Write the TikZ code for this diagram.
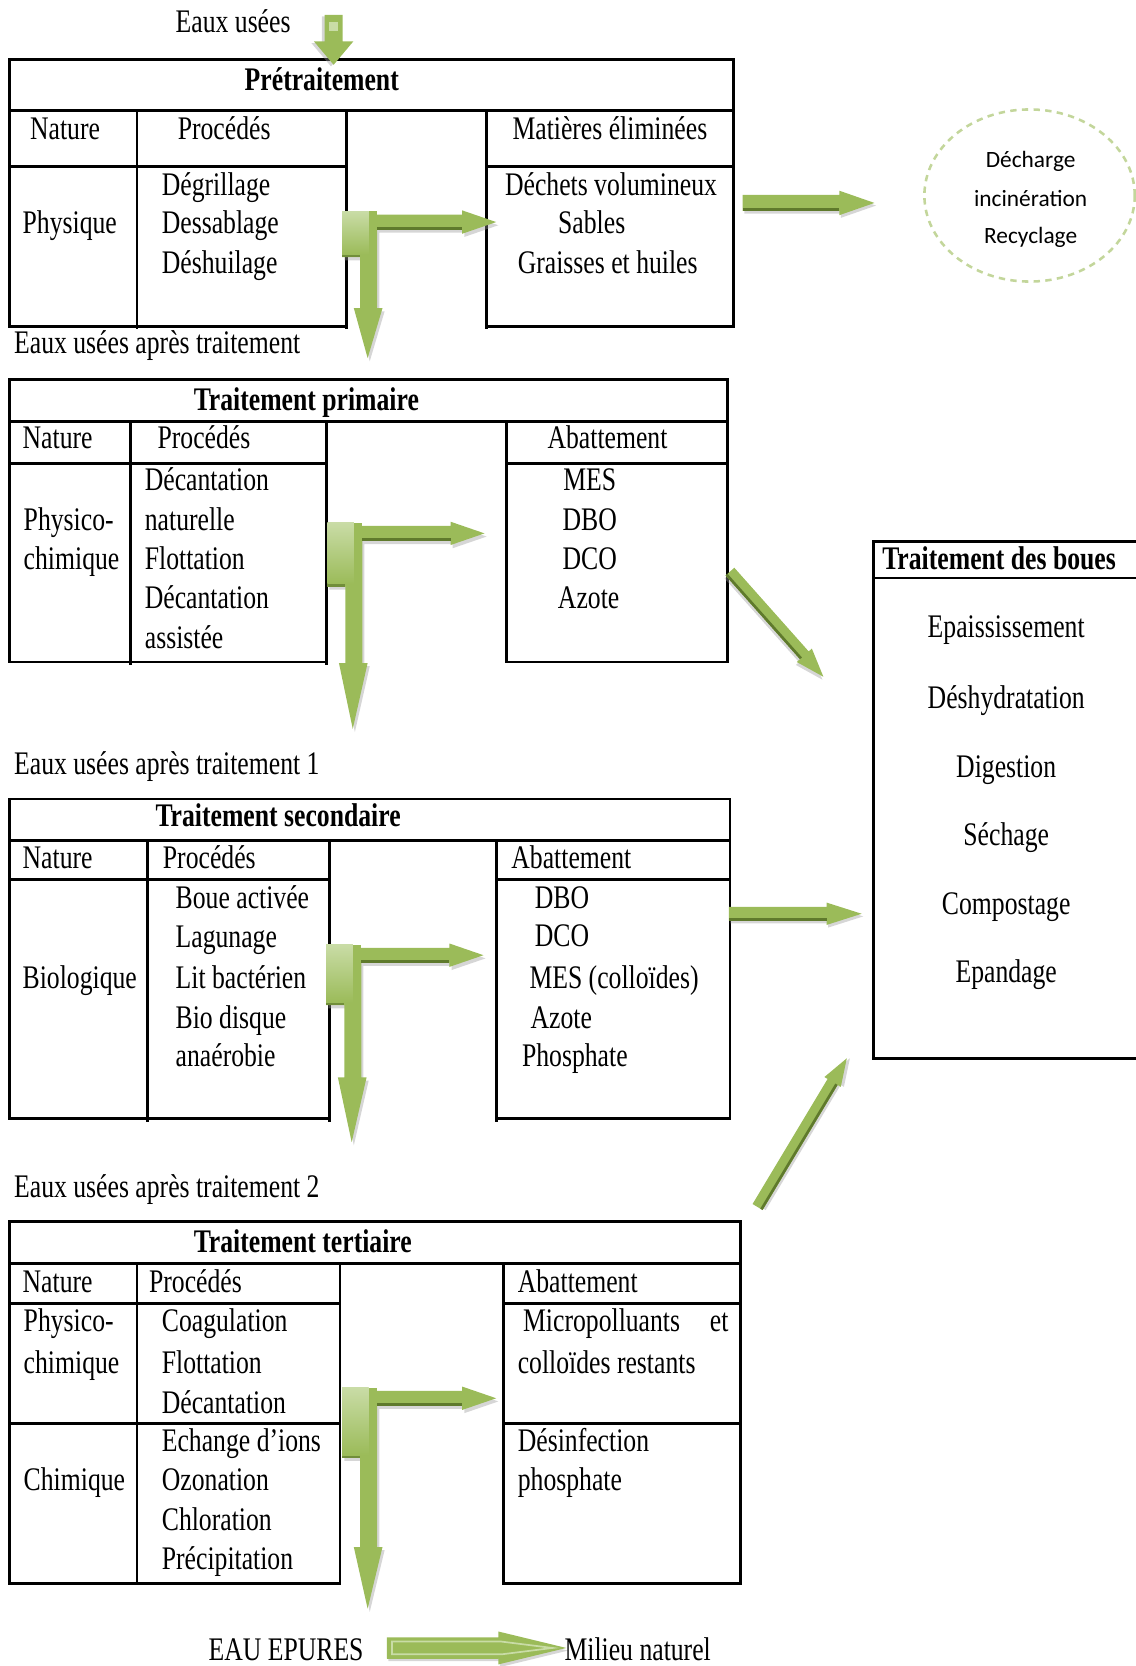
\documentclass[tikz,border=0pt]{standalone}
\usepackage{fontspec}
\setmainfont{Liberation Serif}[FakeStretch=0.78]
\newfontfamily\calib{Carlito}
\usetikzlibrary{calc}
\definecolor{agreen}{HTML}{9BBB59}
\definecolor{adark}{HTML}{5F7A2C}
\definecolor{alight}{HTML}{C9DCA6}
\definecolor{ring}{HTML}{C3D69B}

% straight block arrow outline, drawn in a rotated local frame
\def\garpath#1#2#3{(0,{-#1/2}) -- ({\garlen-#3},{-#1/2}) -- ({\garlen-#3},{-#2/2}) -- (\garlen,0) -- ({\garlen-#3},{#2/2}) -- ({\garlen-#3},{#1/2}) -- (0,{#1/2}) -- cycle}
% #1,#2 start  #3,#4 tip  #5 shaft width  #6 head width  #7 head length  #8 edge colour
\newcommand{\garrow}[8]{%
  \pgfmathsetmacro{\garang}{atan2(#2-#4,#3-#1)}%
  \pgfmathsetmacro{\garlen}{veclen(#3-#1,#4-#2)}%
  \begin{scope}[shift={(#1,#2)}, rotate=\garang]
    \fill[black!40, opacity=.4, shift={(1.5,2.5)}] \garpath{#5}{#6}{#7};
    \fill[agreen] \garpath{#5}{#6}{#7};
    \fill[#8] (0,{#5/2-2.5}) rectangle ({\garlen-#7},{#5/2});
  \end{scope}}

% corner arrow with one head to the right and one head downwards
% #1 = corner height, #2 = vertical shaft length, #3 = horizontal shaft length, #4 = lower head length
\def\Lpath#1#2#3#4{(0,0) -- (25,0) -- (25,3) -- ({25+#3},3) -- ({25+#3},-1) -- ({57+#3},10) -- ({25+#3},21) -- ({25+#3},17) -- (33,17) -- (33,{#1+#2}) -- (38,{#1+#2}) -- (24,{#1+#2+#4}) -- (11,{#1+#2}) -- (17,{#1+#2}) -- (17,#1) -- (0,#1) -- cycle}
\newcommand{\Larrow}[6]{%
  \begin{scope}[shift={(#1,#2)}]
    \fill[black!40, opacity=.4, shift={(2,3)}] \Lpath{#3}{#4}{#5}{#6};
    \fill[agreen] \Lpath{#3}{#4}{#5}{#6};
    \fill[adark] (25,14.5) rectangle ({25+#5},17);
    \fill[adark!70!agreen] (0,{#3-2.5}) rectangle (17,#3);
    \shade[top color=alight, bottom color=agreen] (0,0) rectangle (25,{#3-2.5});
    \fill[agreen] (25,0) rectangle (33,{#3});
  \end{scope}}

\begin{document}
\begin{tikzpicture}[x=0.5pt, y=-0.5pt, line width=1.35pt,
  tx/.style={inner sep=0pt, anchor=base west, font=\fontsize{15.5}{18}\selectfont},
  tc/.style={tx, anchor=base},
  tb/.style={tx, font=\fontsize{15.5}{18}\selectfont\bfseries},
  te/.style={tx, anchor=base east},
  ts/.style={inner sep=0pt, anchor=base, font=\calib\fontsize{11}{13}\selectfont}]
\useasboundingbox (0,0) rectangle (1069,1568);

% ---------- Prétraitement ----------
\draw (9,104) -- (9,56) -- (690,56) -- (690,104) -- cycle;
\draw (9,104) -- (9,307) -- (326,307);
\draw (326,104) -- (326,310);
\draw (129,104) -- (129,310);
\draw (9,157) -- (326,157);
\draw (458,104) -- (458,310);
\draw (458,307) -- (690,307) -- (690,104);
\draw (458,157) -- (690,157);

% ---------- Traitement primaire ----------
\draw (9,397) -- (9,357) -- (685,357) -- (685,397) -- cycle;
\draw (9,397) -- (9,623) -- (307,623);
\draw (307,397) -- (307,626);
\draw (123,397) -- (123,626);
\draw (9,436) -- (307,436);
\draw (477,397) -- (477,623) -- (685,623) -- (685,397);
\draw (477,436) -- (685,436);

% ---------- Traitement secondaire ----------
\draw (9,791) -- (9,752) -- (687,752) -- (687,791) -- cycle;
\draw (9,791) -- (9,1053) -- (310,1053);
\draw (310,791) -- (310,1056);
\draw (139,791) -- (139,1056);
\draw (9,828) -- (310,828);
\draw (467,791) -- (467,1056);
\draw (467,1053) -- (687,1053) -- (687,791);
\draw (467,828) -- (687,828);

% ---------- Traitement tertiaire ----------
\draw (9,1189) -- (9,1150) -- (697,1150) -- (697,1189) -- cycle;
\draw (9,1189) -- (9,1490) -- (320,1490) -- (320,1189);
\draw (129,1189) -- (129,1490);
\draw (9,1227) -- (320,1227);
\draw (9,1340) -- (320,1340);
\draw (474,1189) -- (474,1490) -- (697,1490) -- (697,1189);
\draw (474,1227) -- (697,1227);
\draw (474,1340) -- (697,1340);

% ---------- Traitement des boues ----------
\draw (1069,510) -- (822,510) -- (822,996) -- (1069,996);
\draw (822,544) -- (1069,544);

% ---------- arrows ----------
\garrow{314}{14}{314}{61}{17}{37}{22}{agreen}
\fill[alight] (310,21) rectangle (318,29);
\Larrow{322}{199}{43}{48}{88}{47}
\Larrow{308}{492}{60}{72}{91}{62}
\Larrow{307}{889}{57}{68}{91}{61}
\Larrow{322}{1306}{66}{84}{88}{58}
\garrow{699}{191}{823}{191}{15}{23}{33}{adark}
\garrow{686}{860}{811}{860}{13}{21}{33}{adark}
\garrow{687}{538}{775}{637}{11}{19}{27}{adark}
\garrow{713}{1136}{797}{996}{11}{18}{26}{adark}
\garrow{364}{1551}{533}{1551}{20}{31}{64}{agreen}
\draw[alight, line width=.8pt] (369,1545) -- (472,1545) -- (520,1551) -- (472,1557) -- (369,1557) -- cycle;

% ---------- disposal ring ----------
\draw[ring, line width=1.2pt, dash pattern=on 3pt off 2.5pt] (969,184) ellipse [x radius=49.5pt, y radius=40.5pt];
\node[ts] (dech) at (970,158) {Décharge};
\node[ts] (inci) at (970,194) {incinération};
\node[ts] (recy) at (970,229) {Recyclage};

% ---------- texts ----------
\node[tx] (in) at (164,31) {Eaux usées};

\node[tb] (t0) at (229,85) {Prétraitement};
\node[tx] (n0) at (27,131) {Nature};
\node[tx] (p0) at (166,131) {Procédés};
\node[tx] (m0) at (481,131) {Matières éliminées};
\node[tx] (k0) at (20,220) {Physique};
\node[tx] at (151,184) {Dégrillage};
\node[tx] at (151,220) {Dessablage};
\node[tx] at (151,257) {Déshuilage};
\node[tx] at (474,184) {Déchets volumineux};
\node[tx] at (524,220) {Sables};
\node[tx] at (486,257) {Graisses et huiles};
\node[tx] (o0) at (12,333) {Eaux usées après traitement};

\node[tb] (t1) at (181,386) {Traitement primaire};
\node[tx] at (20,422) {Nature};
\node[tx] at (147,422) {Procédés};
\node[tx] at (514,422) {Abattement};
\node[tx] at (21,499) {Physico-};
\node[tx] at (21,536) {chimique};
\node[tx] at (135,462) {Décantation};
\node[tx] at (135,499) {naturelle};
\node[tx] at (135,536) {Flottation};
\node[tx] at (135,573) {Décantation};
\node[tx] at (135,610) {assistée};
\node[tc] at (555,462) {MES};
\node[tc] at (555,499) {DBO};
\node[tc] at (555,536) {DCO};
\node[tc] at (554,573) {Azote};
\node[tx] (o1) at (12,729) {Eaux usées après traitement 1};

\node[tb] (t2) at (145,778) {Traitement secondaire};
\node[tx] at (20,817) {Nature};
\node[tx] at (152,817) {Procédés};
\node[tx] at (480,817) {Abattement};
\node[tx] at (20,930) {Biologique};
\node[tx] at (164,855) {Boue activée};
\node[tx] at (164,892) {Lagunage};
\node[tx] at (164,930) {Lit bactérien};
\node[tx] at (164,968) {Bio disque};
\node[tx] at (164,1004) {anaérobie};
\node[tx] at (502,855) {DBO};
\node[tx] at (502,891) {DCO};
\node[tx] at (497,930) {MES (colloïdes)};
\node[tx] at (498,968) {Azote};
\node[tx] at (490,1004) {Phosphate};
\node[tx] (o2) at (12,1127) {Eaux usées après traitement 2};

\node[tb] (t3) at (181,1179) {Traitement tertiaire};
\node[tx] at (20,1216) {Nature};
\node[tx] at (139,1216) {Procédés};
\node[tx] at (486,1216) {Abattement};
\node[tx] at (21,1253) {Physico-};
\node[tx] at (21,1293) {chimique};
\node[tx] at (21,1403) {Chimique};
\node[tx] at (151,1253) {Coagulation};
\node[tx] at (151,1293) {Flottation};
\node[tx] at (151,1330) {Décantation};
\node[tx] at (151,1366) {Echange d’ions};
\node[tx] at (151,1403) {Ozonation};
\node[tx] at (151,1440) {Chloration};
\node[tx] at (151,1477) {Précipitation};
\node[tx] at (491,1253) {Micropolluants};
\node[te] at (687,1253) {et};
\node[tx] at (486,1293) {colloïdes restants};
\node[tx] at (486,1366) {Désinfection};
\node[tx] at (486,1403) {phosphate};

\node[tx] (out) at (195,1563) {EAU EPURES};
\node[tx] (nat) at (530,1563) {Milieu naturel};

\node[tb] (t4) at (829,536) {Traitement des boues};
\node[tc] at (947,600) {Epaississement};
\node[tc] at (947,667) {Déshydratation};
\node[tc] at (947,732) {Digestion};
\node[tc] at (947,796) {Séchage};
\node[tc] at (947,861) {Compostage};
\node[tc] at (947,925) {Epandage};
\end{tikzpicture}
\end{document}
